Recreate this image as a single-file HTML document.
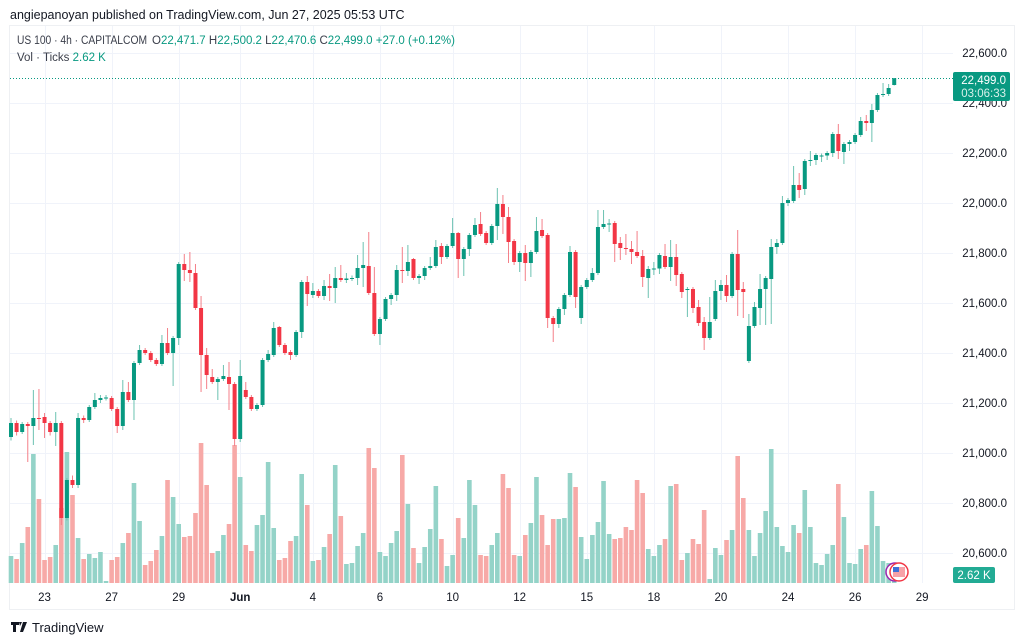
<!DOCTYPE html>
<html><head><meta charset="utf-8"><style>
body{margin:0;background:#fff;width:1024px;height:642px;overflow:hidden;font-family:"Liberation Sans",sans-serif}
svg{display:block}
</style></head><body>
<svg id="chart" width="1024" height="642" viewBox="0 0 1024 642">
<text x="10" y="19" font-size="12.5" fill="#131722">angiepanoyan published on TradingView.com, Jun 27, 2025 05:53 UTC</text>
<rect x="9.5" y="25.5" width="1005" height="584" fill="none" stroke="#eef0f3"/>
<g id="grid"></g>
<g id="vols"></g>
<g id="candles"></g>
<line x1="10" x2="953" y1="78.5" y2="78.5" stroke="#089981" stroke-dasharray="1,2"/>
<g id="yaxis"></g>
<g id="xaxis"></g>
<g font-size="11.5">
<text x="17" y="44" fill="#3a3e4a" textLength="130" lengthAdjust="spacingAndGlyphs">US 100 · 4h · CAPITALCOM</text>
<text x="152" y="44" fill="#089981" textLength="303" lengthAdjust="spacingAndGlyphs"><tspan fill="#3a3e4a">O</tspan>22,471.7 <tspan fill="#3a3e4a"> H</tspan>22,500.2 <tspan fill="#3a3e4a"> L</tspan>22,470.6 <tspan fill="#3a3e4a"> C</tspan>22,499.0 +27.0 (+0.12%)</text>
<text x="17" y="61" fill="#3a3e4a">Vol · Ticks <tspan fill="#089981">2.62 K</tspan></text>
</g>
<rect x="953" y="72" width="57" height="29" rx="2" fill="#089981"/>
<text x="1006" y="84" font-size="11.5" fill="#fff" text-anchor="end">22,499.0</text>
<text x="1006" y="97" font-size="11.5" fill="#d8f0ea" text-anchor="end">03:06:33</text>
<rect x="953" y="567" width="42" height="16" rx="2" fill="#22ab94"/>
<text x="974" y="579" font-size="11.5" fill="#fff" text-anchor="middle">2.62 K</text>
<g><circle cx="895" cy="572" r="9" fill="#fff" stroke="#9c27b0" stroke-width="1.5"/><circle cx="899" cy="572" r="9" fill="#fff" stroke="#f23645" stroke-width="1.5"/><rect x="893" y="567" width="12" height="10" fill="#f7a1a8"/><rect x="893" y="567" width="6" height="5" fill="#3d6fd8"/></g>
<g><path d="M11 622h8v3h-3v7h-3v-7h-2z M19 622h3l-2 4z M23 622h4l-4 10h-3z" fill="#131722"/><text x="32" y="632" font-size="13" fill="#131722">TradingView</text></g>
</svg>
<script>
const opens=[21064,21120,21084,21116,21108,21140,21144,21120,21084,21120,20740,20892,20872,21140,21132,21184,21212,21220,21220,21176,21108,21244,21212,21360,21412,21400,21372,21356,21440,21400,21460,21756,21732,21720,21580,21392,21304,21284,21296,21304,21276,21056,21252,21224,21176,21192,21372,21392,21504,21432,21404,21392,21484,21684,21632,21648,21628,21668,21660,21700,21692,21696,21700,21740,21748,21640,21476,21536,21616,21632,21732,21728,21776,21700,21708,21740,21748,21828,21784,21828,21880,21776,21816,21872,21916,21880,21840,21908,21996,21944,21848,21764,21800,21760,21804,21892,21872,21540,21516,21576,21632,21804,21540,21664,21692,21720,21904,21916,21920,21840,21820,21816,21804,21788,21700,21736,21738,21788,21744,21784,21716,21652,21656,21584,21524,21460,21536,21648,21672,21628,21796,21656,21368,21508,21580,21656,21696,21824,21840,22000,22008,22072,22056,22168,22172,22188,22190,22200,22276,22204,22236,22244,22272,22328,22320,22372,22432,22436,22472];
const closes=[21120,21084,21116,21108,21140,21136,21120,21084,21120,20740,20892,20872,21140,21132,21184,21212,21220,21222,21176,21108,21244,21212,21360,21412,21400,21372,21356,21440,21400,21460,21756,21732,21720,21580,21392,21312,21284,21296,21308,21276,21056,21308,21224,21176,21192,21372,21396,21500,21432,21400,21392,21484,21684,21636,21648,21628,21668,21660,21700,21692,21698,21700,21740,21752,21640,21476,21536,21616,21632,21732,21728,21764,21700,21708,21740,21748,21824,21784,21828,21880,21776,21816,21872,21912,21876,21840,21908,21996,21944,21844,21764,21800,21760,21804,21888,21868,21540,21516,21576,21632,21804,21624,21664,21692,21720,21904,21916,21918,21836,21820,21816,21804,21788,21704,21736,21738,21792,21744,21784,21712,21644,21656,21580,21520,21460,21524,21648,21672,21628,21796,21652,21644,21508,21584,21656,21700,21824,21840,22000,22012,22072,22052,22168,22172,22192,22190,22200,22276,22208,22236,22244,22272,22328,22320,22372,22432,22436,22460,22499];
const highs=[21140,21130,21124,21124,21252,21256,21160,21128,21164,21128,20900,20910,21160,21150,21192,21240,21232,21232,21228,21184,21292,21284,21368,21432,21420,21408,21380,21472,21500,21468,21764,21796,21804,21756,21628,21420,21336,21304,21352,21364,21284,21372,21284,21232,21200,21380,21412,21524,21508,21440,21412,21492,21692,21708,21680,21656,21692,21716,21744,21752,21720,21710,21792,21844,21884,21744,21544,21624,21640,21752,21824,21832,21780,21716,21748,21784,21852,21840,21836,21940,21884,21824,21880,21940,21964,21888,21916,22060,22032,21984,21856,21808,21832,21812,21944,21936,21880,21548,21584,21640,21828,21812,21672,21700,21740,21972,21972,21936,21928,21864,21876,21848,21888,21812,21748,21764,21800,21836,21852,21836,21724,21664,21664,21612,21544,21624,21692,21692,21712,21804,21892,21684,21556,21604,21716,21708,21856,21856,22028,22020,22148,22120,22176,22208,22200,22198,22208,22284,22316,22244,22252,22280,22344,22352,22396,22440,22480,22476,22500];
const lows=[21050,21070,21076,20964,21032,21092,21060,21070,21028,20712,20730,20860,20860,21120,21124,21176,21200,21210,21168,21080,21092,21204,21132,21352,21392,21364,21348,21348,21392,21268,21432,21688,21684,21572,21244,21256,21276,21212,21288,21172,21028,21044,21216,21168,21168,21184,21364,21384,21424,21392,21372,21384,21460,21588,21620,21620,21612,21608,21600,21684,21680,21688,21672,21664,21632,21468,21432,21528,21592,21608,21680,21708,21692,21676,21692,21732,21740,21756,21776,21820,21700,21708,21788,21864,21868,21832,21832,21852,21876,21760,21752,21724,21688,21704,21796,21860,21500,21444,21500,21552,21624,21580,21516,21656,21684,21712,21896,21884,21764,21772,21792,21756,21780,21664,21620,21712,21716,21736,21688,21668,21620,21544,21560,21508,21412,21452,21528,21612,21604,21620,21548,21540,21360,21500,21512,21512,21516,21796,21832,21988,22000,22020,22032,22148,22152,22164,22172,22184,22176,22156,22208,22236,22264,22288,22244,22364,22424,22428,22470];
const volumes=[27,24,40,56,129,84,23,26,38,75,131,88,45,24,29,25,31,2,23,26,40,50,100,62,18,22,33,47,103,86,59,46,47,70,140,98,30,32,48,59,138,106,38,32,58,68,121,55,23,25,42,47,109,78,22,23,36,49,118,67,19,20,37,50,135,115,31,27,40,52,128,79,35,20,36,54,97,44,17,28,65,45,103,78,28,27,38,50,109,95,28,27,48,60,106,68,38,64,64,65,110,96,46,24,48,61,102,49,44,45,56,53,103,90,34,27,38,44,97,99,23,30,44,39,73,4,35,28,43,53,127,85,53,27,50,72,134,56,37,31,58,50,93,56,20,18,29,38,99,66,20,19,34,38,92,57,22,20,3];
const priceTicks=[22600,22400,22200,22000,21800,21600,21400,21200,21000,20800,20600];
const dateLabels=["23","27","29","Jun","4","6","10","12","15","18","20","24","26","29"];
const dateIndex=[6,18,30,41,54,66,79,91,103,115,127,139,151,163];

const NS="http://www.w3.org/2000/svg";
const X0=11, STEP=5.59, VOLBASE=583;
const xs=i=>X0+i*STEP;
const ys=p=>53+(22600-p)/4;
const vs=v=>v*1.0;
function mk(tag,attrs,parent){const e=document.createElementNS(NS,tag);for(const k in attrs)e.setAttribute(k,attrs[k]);parent.appendChild(e);return e;}
const grid=document.getElementById('grid'),yax=document.getElementById('yaxis'),xax=document.getElementById('xaxis');
priceTicks.forEach(p=>{
  const l=mk('line',{x1:10,x2:953,y1:ys(p)+0.5,y2:ys(p)+0.5,stroke:'#f0f3fa'},grid);
  
  
  const t=mk('text',{x:1007,y:ys(p)+4,'font-size':11.5,fill:'#131722','text-anchor':'end'},yax);
  t.textContent=p.toLocaleString('en-US')+'.0';
  
  
});
dateLabels.forEach((d,k)=>{
  const x=xs(dateIndex[k]);
  const l=mk('line',{x1:Math.round(x)+0.5,x2:Math.round(x)+0.5,y1:26,y2:583,stroke:'#f0f3fa'},grid);
  
  
  const t=mk('text',{x:x,y:601,'font-size':11.5,fill:'#131722','text-anchor':'middle','font-weight':d==='Jun'?'bold':'normal'},xax);
  t.textContent=d;
  
  
});
mk('line',{x1:10,x2:1014,y1:609.5,y2:609.5,stroke:'#eef0f3'},grid);
const vg=document.getElementById('vols'),cg=document.getElementById('candles');
volumes.forEach((v,i)=>{
  const up=closes[i]>=opens[i];
  const h=vs(v);
  const r=mk('rect',{x:xs(i)-2.3,y:VOLBASE-h,width:4.6,height:h,fill:up?'#94d3c8':'#f7a9a7'},vg);
  
  
});
opens.forEach((o,i)=>{
  const c=closes[i],up=c>=o,col=up?'#089981':'#f23645';
  const x=xs(i);
  const w=mk('line',{x1:x,x2:x,y1:ys(highs[i]),y2:ys(lows[i]),stroke:up?'#6cc2b1':'#f47f88','stroke-width':1},cg);
  
  
  const top=ys(Math.max(o,c)),bh=Math.max(1,Math.abs(ys(o)-ys(c)));
  const b=mk('rect',{x:x-2,y:top,width:4,height:bh,fill:col},cg);
  
  
});
</script>
</body></html>
